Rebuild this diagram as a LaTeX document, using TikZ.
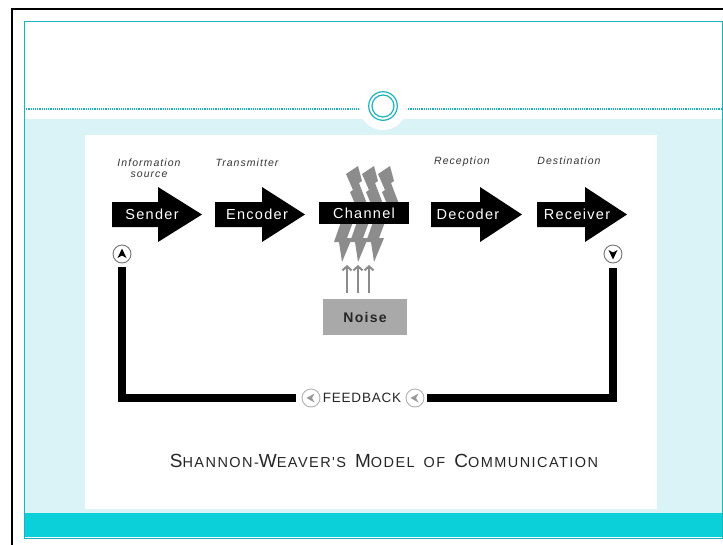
\documentclass[tikz,border=0pt]{standalone}
\usepackage{fontspec}
\setmainfont{Liberation Sans}
\newfontfamily\arrfont{Liberation Sans}[LetterSpace=9]
\newfontfamily\fbfont{Liberation Sans}[LetterSpace=6]
\newfontfamily\labfont{Liberation Sans}[LetterSpace=10]
\newfontfamily\titfont{Liberation Sans}[LetterSpace=10]
\usetikzlibrary{arrows.meta}
\definecolor{tealline}{HTML}{1BB3BE}
\definecolor{cyanbg}{HTML}{DAF3F7}
\definecolor{tealbar}{HTML}{0BCFD9}
\definecolor{boltgray}{HTML}{8C8C8C}
\definecolor{noisegray}{HTML}{A9A9A9}
\definecolor{labgray}{HTML}{333333}
\newcommand\tbig[1]{{\fontsize{19}{19}\selectfont #1}}
\newcommand\tsml[1]{{\fontsize{14.5}{14.5}\selectfont #1}}
\newcommand\tgap{\hspace{9pt}}
\tikzset{
  arrowtext/.style={font=\arrfont\fontsize{14.5}{15}\selectfont, text=white, inner sep=0pt},
  toplabel/.style={font=\labfont\itshape\fontsize{10.5}{11}\selectfont, text=labgray, align=center, inner sep=0pt},
  fbline/.style={line width=8.5pt, black, line join=miter, line cap=butt},
  navcirc/.style={circle, draw=black!55, line width=0.9pt, fill=white, minimum size=18pt, inner sep=0pt},
  fbcirc/.style={circle, draw=black!30, line width=0.9pt, fill=white, minimum size=18pt, inner sep=0pt},
  noisearrow/.style={draw=boltgray, line width=2.2pt, -{Straight Barb[length=4pt,width=9pt,line width=2pt]}},
}
\begin{document}
\begin{tikzpicture}[x=1pt,y=-1pt]
\useasboundingbox (0,0) rectangle (723,544);
% slide background
\fill[white] (0,0) rectangle (723,544);
\fill[cyanbg] (24,119) rectangle (722,513);
\fill[tealbar] (24,513) rectangle (722,537);
\fill[white] (85,135) rectangle (657,509);
\draw[tealline, line width=1.2pt, densely dotted] (24,109) -- (360,109);
\draw[tealline, line width=1.2pt, densely dotted] (406,109) -- (722,109);
\fill[white] (383,106) circle (24pt);
\draw[tealline, line width=1.2pt] (383,106) circle (14.3pt);
\draw[tealline, line width=1.2pt] (383,106) circle (11pt);
\draw[tealline, line width=1pt] (24,21) rectangle (722,538);
\draw[black, line width=2.6pt] (12,548) -- (12,9) -- (727,9);

% top labels
\node[toplabel] (lsrc) at (149,168) {Information\\source};
\node[toplabel] (ltx) at (247,163) {Transmitter};
\node[toplabel] (lrc) at (462,162) {Reception};
\node[toplabel] (ldst) at (569,161) {Destination};

% big arrows
\fill[black] (112,202) -- (158,202) -- (158,187) -- (202,214.5) -- (158,242) -- (158,227) -- (112,227) -- cycle;
\fill[black] (215,202) -- (262,202) -- (262,187) -- (305,214.5) -- (262,242) -- (262,227) -- (215,227) -- cycle;
\fill[black] (431,202) -- (480,202) -- (480,187) -- (522,214.5) -- (480,242) -- (480,227) -- (431,227) -- cycle;
\fill[black] (537,202) -- (585,202) -- (585,187) -- (627,214.5) -- (585,242) -- (585,227) -- (537,227) -- cycle;

% lightning bolts
\foreach \dx in {0,16,32}{
  \begin{scope}[shift={(344+\dx,166)}]
    \fill[boltgray] (2,8) -- (14,0) -- (18,15) -- (15,17) -- (23,38) -- (9,56) -- (3,72) -- (8,72)
      -- (-2,96) -- (-5,76) -- (-10,76) -- (-3,56) -- (11,38) -- (6,26) -- (9,24) -- cycle;
  \end{scope}
}
\fill[black] (319,202) rectangle (409,224);

\node[arrowtext] (sender) at (152,214.5) {Sender};
\node[arrowtext] (encoder) at (257,214.5) {Encoder};
\node[arrowtext] (channel) at (364,213) {Channel};
\node[arrowtext] (decoder) at (468,214.5) {Decoder};
\node[arrowtext] (receiver) at (577,214.5) {Receiver};

% noise
\node[fill=noisegray, minimum width=84pt, minimum height=36pt, inner sep=0pt,
      font=\arrfont\bfseries\fontsize{14}{14}\selectfont, text=black!85] (noise) at (365,317) {Noise};
\coordinate (na) at (347,265);
\coordinate (nb) at (358,265);
\coordinate (nc) at (369,265);
\draw[noisearrow] ([xshift=-18pt,yshift=6pt]noise.north) -- (na);
\draw[noisearrow] ([xshift=-7pt,yshift=6pt]noise.north) -- (nb);
\draw[noisearrow] ([xshift=4pt,yshift=6pt]noise.north) -- (nc);

% feedback loop
\node[navcirc] (upc) at (122,254) {};
\node[navcirc] (dnc) at (613,254) {};
\node[fbcirc] (fbl) at (311,398) {};
\node[fbcirc] (fbr) at (415,398) {};
\node[font=\fbfont\fontsize{13.5}{14}\selectfont, text=black!85, inner sep=0pt] (fb) at (362,398) {FEEDBACK};
\fill[black] ([shift={(0pt,5.5pt)}]upc.center) -- ([shift={(4.5pt,-4pt)}]upc.center) -- ([shift={(0pt,-1.5pt)}]upc.center) -- ([shift={(-4.5pt,-4pt)}]upc.center) -- cycle;
\fill[black] ([shift={(0pt,-5.5pt)}]dnc.center) -- ([shift={(4.5pt,4pt)}]dnc.center) -- ([shift={(0pt,1.5pt)}]dnc.center) -- ([shift={(-4.5pt,4pt)}]dnc.center) -- cycle;
\fill[black!40] ([shift={(-4.5pt,0pt)}]fbl.center) -- ([shift={(3.5pt,4.5pt)}]fbl.center) -- ([shift={(1pt,0pt)}]fbl.center) -- ([shift={(3.5pt,-4.5pt)}]fbl.center) -- cycle;
\fill[black!40] ([shift={(-4.5pt,0pt)}]fbr.center) -- ([shift={(3.5pt,4.5pt)}]fbr.center) -- ([shift={(1pt,0pt)}]fbr.center) -- ([shift={(3.5pt,-4.5pt)}]fbr.center) -- cycle;
\draw[fbline, shorten <=5pt, shorten >=3pt] (dnc.south) |- (fbr.east);
\draw[fbline, shorten <=5.5pt, shorten >=4pt] (fbl.west) -| (upc.south);

% title
\node[font=\titfont, text=black!85, inner sep=0pt, anchor=base] (title) at (384,467)
  {\tbig{S}\tsml{HANNON-}\tbig{W}\tsml{EAVER'S}\tgap\tbig{M}\tsml{ODEL}\tgap\tsml{OF}\tgap\tbig{C}\tsml{OMMUNICATION}};
\end{tikzpicture}
\end{document}
